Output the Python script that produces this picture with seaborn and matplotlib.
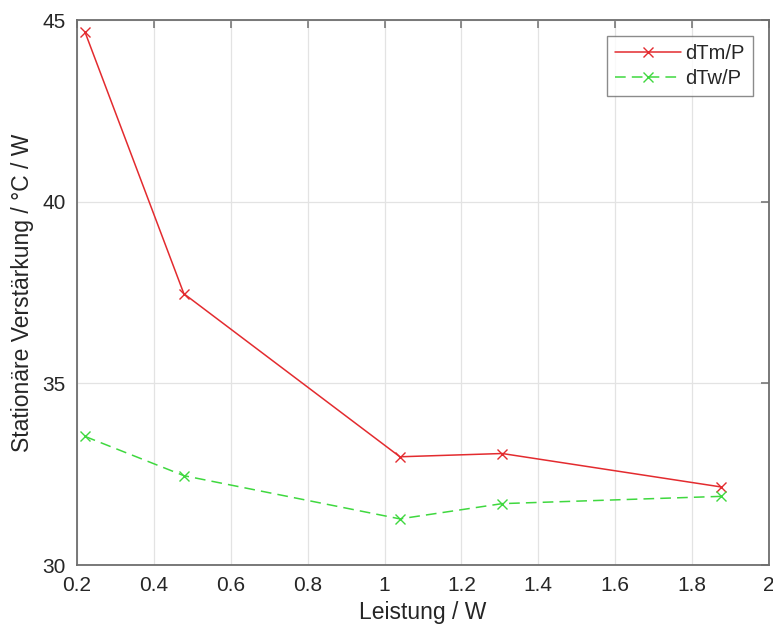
import pandas as pd
import matplotlib
matplotlib.use("Agg")
import matplotlib.pyplot as plt
import seaborn as sns

# =====================================================
# DATA
# =====================================================

leistung = [0.221, 0.478, 1.040, 1.306, 1.875]
dtm_p = [44.67, 37.47, 32.98, 33.07, 32.15]
dtw_p = [33.54, 32.46, 31.27, 31.69, 31.89]

series_names = ["dTm/P", "dTw/P"]
x_ticks = [0.2, 0.4, 0.6, 0.8, 1.0, 1.2, 1.4, 1.6, 1.8, 2.0]
x_tick_labels = ["0.2", "0.4", "0.6", "0.8", "1", "1.2", "1.4", "1.6", "1.8", "2"]
y_ticks = [30, 35, 40, 45]

df_m = pd.DataFrame({"Leistung": leistung, "Wert": dtm_p})
df_w = pd.DataFrame({"Leistung": leistung, "Wert": dtw_p})

# =====================================================
# STYLE
# =====================================================

sns.set_style("white")
plt.rcParams["font.family"] = ["Liberation Sans", "DejaVu Sans"]

AX_COLOR = "#6e6e6e"
TEXT_COLOR = "#262626"
RED = "#e32b2f"
GREEN = "#3fd83f"

fig = plt.figure(figsize=(7.73, 6.32), dpi=100)
ax = fig.add_axes([0.0996, 0.106, 0.8952, 0.862])

sns.lineplot(
    data=df_m, x="Leistung", y="Wert",
    color=RED, marker="x", markersize=7,
    markeredgecolor=RED, markeredgewidth=1.0,
    linewidth=1.1, linestyle="-",
    label=series_names[0], ax=ax,
)

sns.lineplot(
    data=df_w, x="Leistung", y="Wert",
    color=GREEN, marker="x", markersize=7,
    markeredgecolor=GREEN, markeredgewidth=1.0,
    linewidth=1.1, dashes=(7, 4),
    label=series_names[1], ax=ax,
)

ax.lines[1].set_dashes((7, 4))

ax.set_xlim(0.2, 2.0)
ax.set_ylim(30, 45)
ax.set_xticks(x_ticks)
ax.set_xticklabels(x_tick_labels)
ax.set_yticks(y_ticks)

ax.grid(True, color="#e3e3e3", linewidth=0.9)
ax.set_axisbelow(True)

for side in ["top", "bottom", "left", "right"]:
    ax.spines[side].set_visible(True)
    ax.spines[side].set_color(AX_COLOR)
    ax.spines[side].set_linewidth(1.3)

ax.tick_params(
    direction="in",
    top=True,
    right=True,
    length=6,
    width=1.1,
    color=AX_COLOR,
    labelcolor=TEXT_COLOR,
    labelsize=15,
    pad=8,
)

ax.set_xlabel("Leistung / W", fontsize=16.5, color=TEXT_COLOR, labelpad=4)
ax.set_ylabel("Stationäre Verstärkung / °C / W", fontsize=16.5, color=TEXT_COLOR, labelpad=6)

leg = ax.legend(
    loc="upper right",
    fontsize=14.5,
    frameon=True,
    fancybox=False,
    handlelength=3.3,
    handletextpad=0.2,
    borderpad=0.4,
    labelspacing=0.3,
    borderaxespad=0.8,
    labelcolor=TEXT_COLOR,
)
leg.get_frame().set_edgecolor(AX_COLOR)
leg.get_frame().set_linewidth(1.0)

fig.savefig("out.png", dpi=100)
